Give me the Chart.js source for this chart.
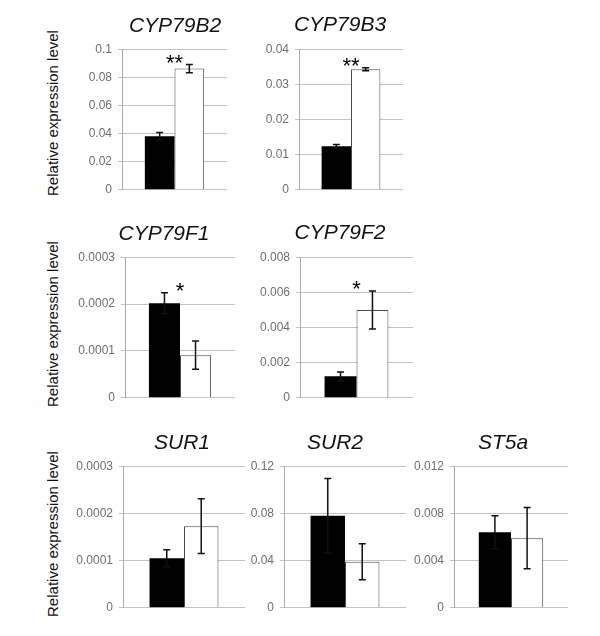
<!DOCTYPE html>
<html>
<head>
<meta charset="utf-8">
<title>Relative expression level</title>
<script src="https://cdn.jsdelivr.net/npm/chart.js@4.4.1/dist/chart.umd.min.js"></script>
<style>
body { margin: 0; background: #fff; width: 600px; height: 636px; position: relative; overflow: hidden; font-family: "Liberation Sans", Arial, sans-serif; }
canvas { position: absolute; }
.gene { position: absolute; font-style: italic; font-size: 21px; color: #111; transform: translate(-50%, -50%); white-space: nowrap; }
.ylab { position: absolute; font-size: 15px; color: #111; transform: translate(-50%, -50%) rotate(-90deg); white-space: nowrap; }
</style>
</head>
<body>
<script>
'use strict';

// genes, one small chart each
let genes = ['CYP79B2', 'CYP79B3', 'CYP79F1', 'CYP79F2', 'SUR1', 'SUR2', 'ST5a'];

// black bars and their error
let blackVals = [0.038, 0.0124, 0.000202, 0.00122, 0.000105, 0.078, 0.0064];
let blackErr = [0.0027, 0.0005, 0.000022, 0.00025, 0.000018, 0.0316, 0.0014];

// white bars and their error
let whiteVals = [0.0862, 0.0343, 0.000091, 0.0050, 0.000173, 0.039, 0.0059];
let whiteErr = [0.003, 0.0004, 0.00003, 0.00108, 0.000058, 0.0152, 0.0026];

// significance marks
let stars = ['**', '**', '*', '*', '', '', ''];

// y tick labels of every chart
let tickLabelSets = [
    ['0', '0.02', '0.04', '0.06', '0.08', '0.1'],
    ['0', '0.01', '0.02', '0.03', '0.04'],
    ['0', '0.0001', '0.0002', '0.0003'],
    ['0', '0.002', '0.004', '0.006', '0.008'],
    ['0', '0.0001', '0.0002', '0.0003'],
    ['0', '0.04', '0.08', '0.12'],
    ['0', '0.004', '0.008', '0.012']
];

// where each plot area sits on the page (axis line, right end, top and bottom gridline)
let panels = [
    { axisX: 122, right: 227, top: 46, bottom: 193, tx: 175, ty: 25 },
    { axisX: 299, right: 403, top: 46, bottom: 193, tx: 340, ty: 24 },
    { axisX: 125, right: 235, top: 254, bottom: 401, tx: 164, ty: 233 },
    { axisX: 300, right: 413, top: 254, bottom: 401, tx: 340, ty: 232 },
    { axisX: 123, right: 245, top: 463, bottom: 611, tx: 182, ty: 442 },
    { axisX: 284, right: 406, top: 463, bottom: 611, tx: 335, ty: 442 },
    { axisX: 454, right: 568, top: 463, bottom: 611, tx: 503, ty: 442 }
];
let yLabelRows = [113, 324, 534];

let axisW = 52;   // room for the tick labels
let padV = 10;    // room above and below the plot area
let fontFam = '"Liberation Sans", Arial, sans-serif';

// error bars and stars drawn over the bars
function markPlugin(i) {
    return {
        id: 'marks' + i,
        afterDatasetsDraw(chart) {
            let ctx = chart.ctx;
            let y = chart.scales.y;
            let vals = [blackVals[i], whiteVals[i]];
            let errs = [blackErr[i], whiteErr[i]];
            let tops = [];
            let xs = [];
            ctx.save();
            ctx.strokeStyle = '#111';
            ctx.lineWidth = 1.5;
            for (let d = 0; d < 2; d++) {
                let bar = chart.getDatasetMeta(d).data[0];
                let hi = y.getPixelForValue(vals[d] + errs[d]);
                let lo = y.getPixelForValue(vals[d] - errs[d]);
                tops.push(hi);
                xs.push(bar.x);
                ctx.beginPath();
                ctx.moveTo(bar.x, hi);
                ctx.lineTo(bar.x, lo);
                ctx.moveTo(bar.x - 3.5, hi);
                ctx.lineTo(bar.x + 3.5, hi);
                ctx.moveTo(bar.x - 3.5, lo);
                ctx.lineTo(bar.x + 3.5, lo);
                ctx.stroke();
            }
            if (stars[i]) {
                let cx = (xs[0] + xs[1]) / 2;
                let cy = Math.min(tops[0], tops[1]) - 7;
                ctx.fillStyle = '#000';
                ctx.font = '22px ' + fontFam;
                ctx.textAlign = 'center';
                ctx.textBaseline = 'alphabetic';
                ctx.fillText(stars[i], cx, cy + 12.5);
            }
            ctx.restore();
        }
    };
}

function drawPanel(i) {
    let box = panels[i];
    let left = box.axisX - axisW;
    let canvas = document.createElement('canvas');
    canvas.width = box.right - left + 1;
    canvas.height = box.bottom - box.top + 2 * padV;
    canvas.style.left = left + 'px';
    canvas.style.top = (box.top - padV) + 'px';
    document.body.appendChild(canvas);

    let tickLabels = tickLabelSets[i];
    let tickValues = tickLabels.map(Number);

    new Chart(canvas, {
        type: 'bar',
        data: {
            labels: [genes[i]],
            datasets: [{
                label: 'black',
                data: [blackVals[i]],
                backgroundColor: '#000000',
                borderWidth: 0
            }, {
                label: 'white',
                data: [whiteVals[i]],
                backgroundColor: '#ffffff',
                borderColor: '#4a4a4a',
                borderWidth: 1
            }]
        },
        options: {
            responsive: false,
            animation: false,
            layout: { padding: { top: padV, bottom: padV, left: 0, right: 1 } },
            datasets: { bar: { categoryPercentage: 0.565, barPercentage: 1 } },
            plugins: { legend: { display: false }, tooltip: { enabled: false } },
            scales: {
                x: { display: false },
                y: {
                    min: 0,
                    max: tickValues[tickValues.length - 1],
                    afterBuildTicks: s => { s.ticks = tickValues.map(v => ({ value: v })); },
                    afterFit: s => { s.width = axisW; },
                    ticks: {
                        callback: (v, k) => tickLabels[k],
                        color: '#6e6e6e',
                        font: { size: 12, family: fontFam },
                        padding: 6
                    },
                    grid: { color: '#c2c2c2', tickLength: 4, lineWidth: 1 },
                    border: { color: '#a8a8a8' }
                }
            }
        },
        plugins: [markPlugin(i)]
    });

    // gene name above the chart
    let t = document.createElement('div');
    t.className = 'gene';
    t.textContent = genes[i];
    t.style.left = box.tx + 'px';
    t.style.top = box.ty + 'px';
    document.body.appendChild(t);
}

for (let i = 0; i < genes.length; i++) {
    drawPanel(i);
}

// y axis title, once per row
for (let r = 0; r < yLabelRows.length; r++) {
    let lab = document.createElement('div');
    lab.className = 'ylab';
    lab.textContent = 'Relative expression level';
    lab.style.left = '52px';
    lab.style.top = yLabelRows[r] + 'px';
    document.body.appendChild(lab);
}
</script>
</body>
</html>
